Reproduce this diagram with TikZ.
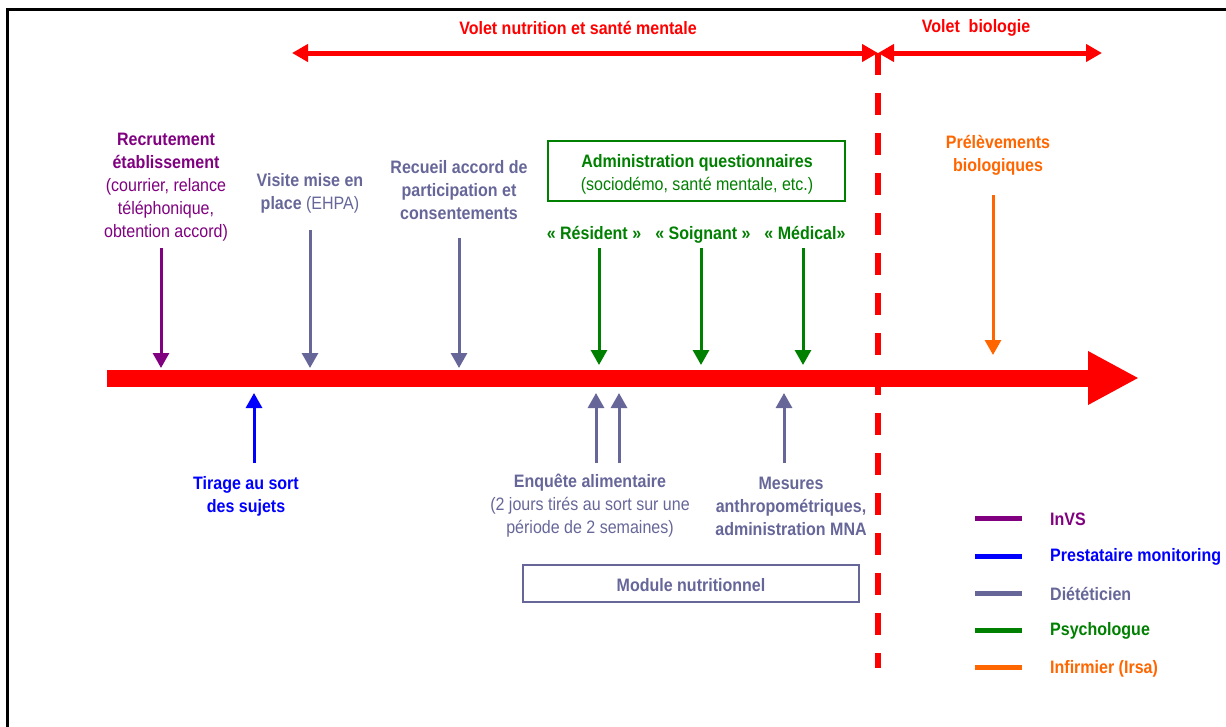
\documentclass[tikz,border=0pt]{standalone}
\usepackage{fontspec}
\setmainfont{Liberation Sans}[FakeStretch=0.89]
\usetikzlibrary{arrows.meta}
\definecolor{cpurple}{RGB}{128,0,128}
\definecolor{cblue}{RGB}{0,0,255}
\definecolor{cslate}{RGB}{102,102,153}
\definecolor{cgreen}{RGB}{0,128,0}
\definecolor{corange}{RGB}{255,102,0}
\definecolor{cred}{RGB}{255,0,0}
\begin{document}
\begin{tikzpicture}[x=1pt,y=-1pt,
  txt/.style={font=\fontsize{18}{23}\selectfont, align=center, inner sep=0pt},
  bt/.style={font=\fontsize{18}{23}\selectfont\bfseries, align=center, inner sep=0pt},
  varrow/.style={line width=3pt, -{Triangle[length=15pt,width=16pt]}},
  toparrow/.style={cred, line width=5pt, {Triangle[length=16pt,width=17pt]}-{Triangle[length=16pt,width=17pt]}},
  legline/.style={line width=5pt},
  legtxt/.style={bt, anchor=west}
]
\useasboundingbox (0,0) rectangle (1226,726);
% frame
\draw[line width=2.5pt] (7.5,740) -- (7.5,9.5) -- (1240,9.5);

% top arrows
\coordinate (t1L) at (292,53);
\coordinate (tM) at (878,53);
\coordinate (t2R) at (1102,53);
\draw[toparrow] (t1L) -- (tM);
\draw[toparrow] (tM) -- (t2R);
\node[bt, text=cred] (vn) at (578,28) {Volet nutrition et santé mentale};
\node[bt, text=cred] (vb) at (976,28) {Volet\ \ biologie};

% dashed separator
\coordinate (dB) at (878,668);
\draw[cred, line width=6pt, dash pattern=on 22pt off 18pt] (tM) -- (dB);

% main time axis
\coordinate (axL) at (107,378);
\coordinate (axR) at (1139,378);
\draw[cred, line width=17pt, -{Triangle[length=51pt,width=50pt]}] (axL) -- (axR);

% texts above
\node[txt, text=cpurple] (recr) at (166,187) {\textbf{Recrutement}\\\textbf{établissement}\\(courrier, relance\\téléphonique,\\obtention accord)};
\node[txt, text=cslate] (visite) at (310,193) {\textbf{Visite mise en}\\\textbf{place} (EHPA)};
\node[bt, text=cslate] (recueil) at (459,190) {Recueil accord de\\participation et\\consentements};
\node[draw=cgreen, line width=2pt, minimum width=297pt, minimum height=60pt, inner sep=0pt] (adminbox) at (696.5,171) {};
\node[txt, text=cgreen] (admin) at (697,174) {\textbf{Administration questionnaires}\\(sociodémo, santé mentale, etc.)};
\node[bt, text=cgreen, anchor=base] (res) at (594,239.5) {« Résident »};
\node[bt, text=cgreen, anchor=base] (soi) at (703,239.5) {« Soignant »};
\node[bt, text=cgreen, anchor=base] (med) at (805,239.5) {« Médical»};
\node[bt, text=corange] (prel) at (998,155) {Prélèvements\\biologiques};

% down arrows
\coordinate (p1a) at (161,248); \coordinate (p1b) at (161,368);
\coordinate (s1a) at (310,230); \coordinate (s1b) at (310,368);
\coordinate (s2a) at (459,238); \coordinate (s2b) at (459,368);
\coordinate (g1a) at (599,248); \coordinate (g1b) at (599,365);
\coordinate (g2a) at (701,248); \coordinate (g2b) at (701,365);
\coordinate (g3a) at (803,248); \coordinate (g3b) at (803,365);
\coordinate (o1a) at (993,195); \coordinate (o1b) at (993,355);
\draw[varrow, cpurple] (p1a) -- (p1b);
\draw[varrow, cslate] (s1a) -- (s1b);
\draw[varrow, cslate] (s2a) -- (s2b);
\draw[varrow, cgreen] (g1a) -- (g1b);
\draw[varrow, cgreen] (g2a) -- (g2b);
\draw[varrow, cgreen] (g3a) -- (g3b);
\draw[varrow, corange] (o1a) -- (o1b);

% up arrows
\coordinate (b1a) at (254,463); \coordinate (b1b) at (254,393);
\coordinate (u1a) at (596,463); \coordinate (u1b) at (596,393);
\coordinate (u2a) at (619,463); \coordinate (u2b) at (619,393);
\coordinate (u3a) at (784,463); \coordinate (u3b) at (784,393);
\draw[varrow, cblue] (b1a) -- (b1b);
\draw[varrow, cslate] (u1a) -- (u1b);
\draw[varrow, cslate] (u2a) -- (u2b);
\draw[varrow, cslate] (u3a) -- (u3b);

% texts below
\node[bt, text=cblue] (tirage) at (246,496) {Tirage au sort\\des sujets};
\node[txt, text=cslate] (enq) at (590,506) {\textbf{Enquête alimentaire}\\(2 jours tirés au sort sur une\\période de 2 semaines)};
\node[bt, text=cslate] (mes) at (791,506) {Mesures\\anthropométriques,\\administration MNA};
\node[draw=cslate, line width=1.5pt, minimum width=336pt, minimum height=37pt, inner sep=0pt] (modbox) at (691,583.5) {};
\node[bt, text=cslate] (mod) at (691,585) {Module nutritionnel};

% legend
\coordinate (l1a) at (975,518); \coordinate (l1b) at (1022,518);
\coordinate (l2a) at (975,556); \coordinate (l2b) at (1022,556);
\coordinate (l3a) at (975,593); \coordinate (l3b) at (1022,593);
\coordinate (l4a) at (975,630); \coordinate (l4b) at (1022,630);
\coordinate (l5a) at (975,667); \coordinate (l5b) at (1022,667);
\draw[legline, cpurple] (l1a) -- (l1b);
\draw[legline, cblue] (l2a) -- (l2b);
\draw[legline, cslate] (l3a) -- (l3b);
\draw[legline, cgreen] (l4a) -- (l4b);
\draw[legline, corange] (l5a) -- (l5b);
\node[legtxt, text=cpurple] (lg1) at (1050,519) {InVS};
\node[legtxt, text=cblue] (lg2) at (1050,557) {Prestataire monitoring};
\node[legtxt, text=cslate] (lg3) at (1050,594) {Diététicien};
\node[legtxt, text=cgreen] (lg4) at (1050,631) {Psychologue};
\node[legtxt, text=corange] (lg5) at (1050,669) {Infirmier (Irsa)};
\end{tikzpicture}
\end{document}
